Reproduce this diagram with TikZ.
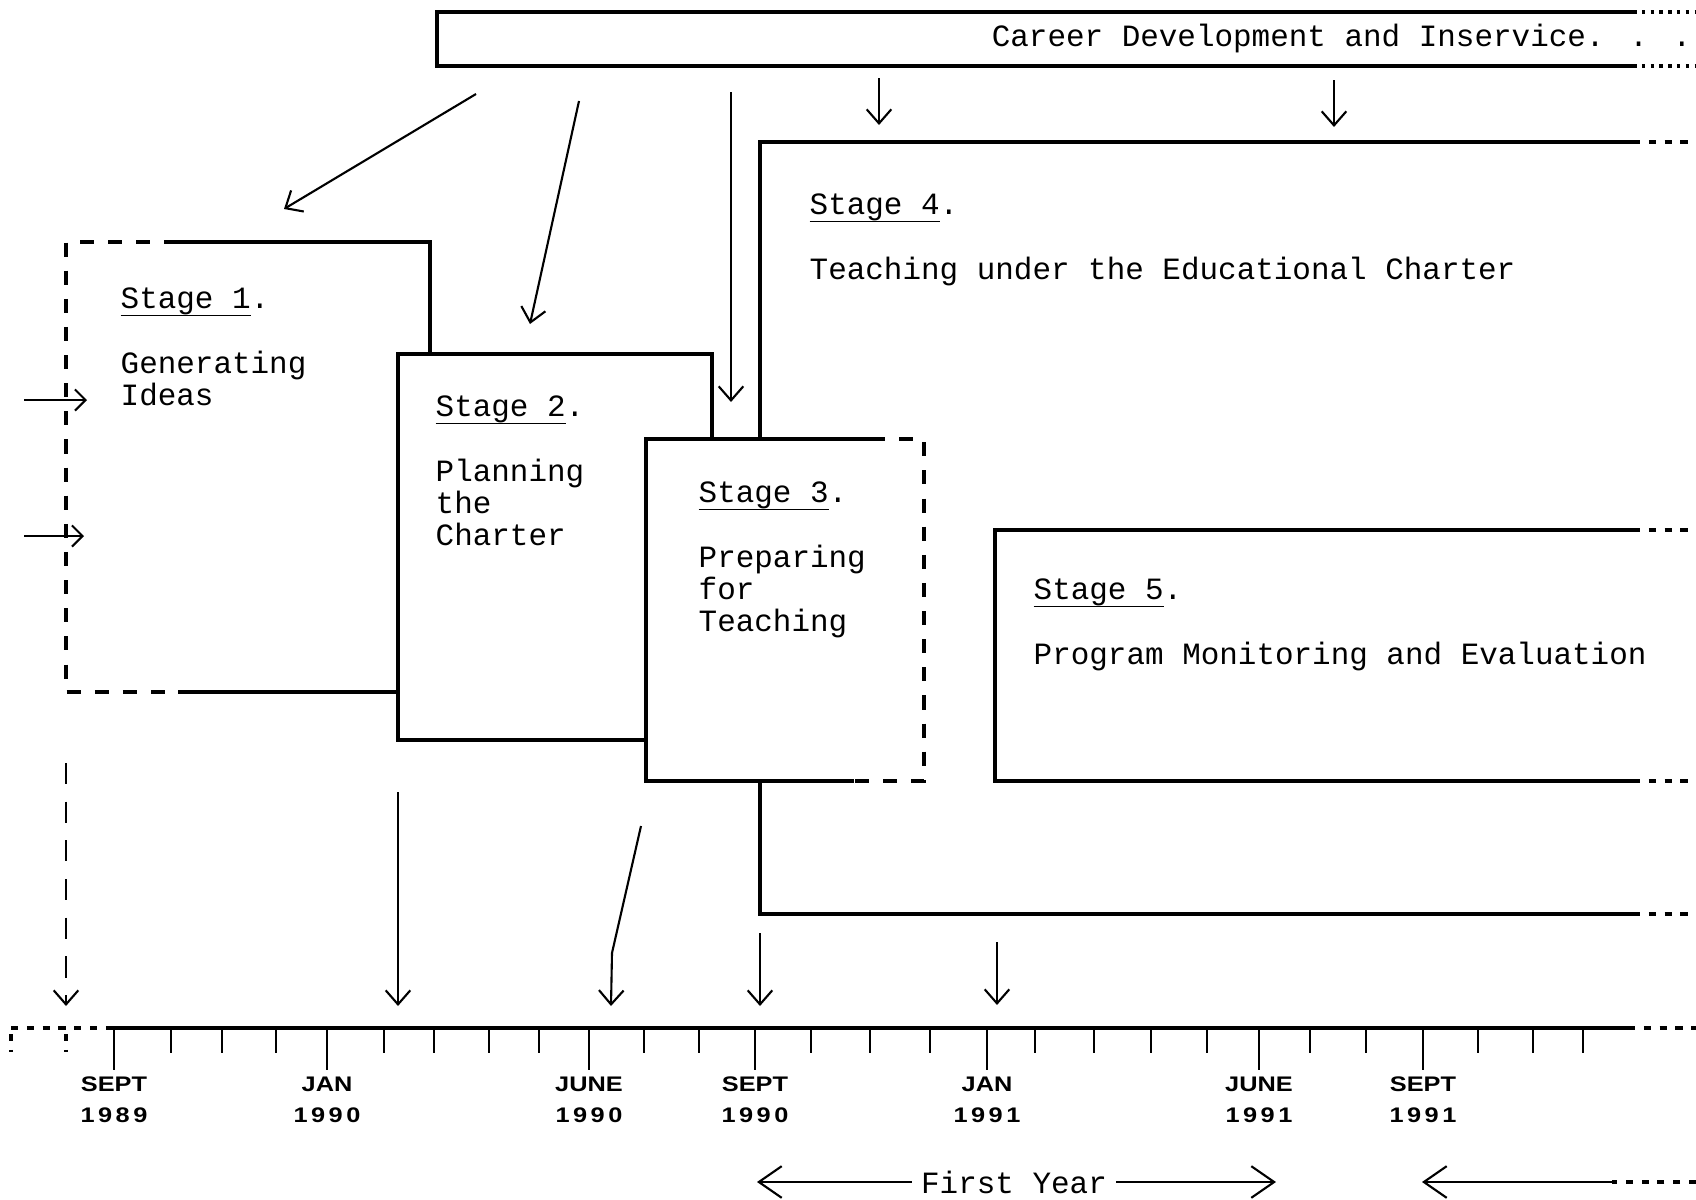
\documentclass[tikz,border=0pt]{standalone}
\usepackage{fontspec}
\usetikzlibrary{arrows.meta}
\newfontfamily\twfont{Liberation Mono}
\newfontfamily\datefont{Liberation Sans}[FakeStretch=1.2]
\newcommand\stagefont{\twfont\fontsize{8.8}{9.2}\selectfont}
\newcommand\tickfont{\datefont\bfseries\fontsize{6}{8.9}\selectfont}
\newcommand\spreadyr[4]{#1\kern1pt#2\kern1pt#3\kern1pt#4}
\newcommand\stageul[1]{\setbox0\hbox{#1}\rlap{\smash{\rule[-2.3pt]{\wd0}{0.5pt}}}\box0}

\begin{document}
\begin{tikzpicture}[x=0.01cm, y=-0.01cm,
  box/.style={line width=0.9pt},
  brk/.style={line width=0.9pt, dash pattern=on 4pt off 4pt},
  tail/.style={line width=0.9pt, dash pattern=on 2pt off 2.5pt},
  dots/.style={line width=0.9pt, dash pattern=on 1pt off 1.5pt},
  arr/.style={line width=0.6pt, -{Straight Barb[length=4pt,width=7pt]}},
  bigarr/.style={line width=0.6pt, -{Straight Barb[length=6.5pt,width=9pt]}},
  stagetxt/.style={anchor=north west, inner sep=0pt, align=left, font=\stagefont}]
  \useasboundingbox (0,0) rectangle (1696,1200);

  % Career development band
  \draw[box] (1633,12) -- (437,12) -- (437,66) -- (1633,66);
  \draw[dots] (1633,12) -- (1696,12);
  \draw[dots] (1633,66) -- (1696,66);
  \node[anchor=base east, inner sep=0pt, font=\stagefont] (cdi) at (1692,47) {Career Development and Inservice. . .};

  % Stage 4
  \draw[box] (1633,142) -- (760,142) -- (760,914) -- (1633,914);
  \draw[tail] (1633,142) -- (1696,142); % open to the right
  \draw[tail] (1633,914) -- (1696,914);
  \node[stagetxt] (s4) at (809,193) {\stageul{Stage 4}.\\[9.2pt]Teaching under the Educational Charter};

  % Stage 5
  \draw[box] (1633,530) -- (995,530) -- (995,781) -- (1633,781);
  \draw[tail] (1633,530) -- (1696,530);
  \draw[tail] (1633,781) -- (1696,781);
  \node[stagetxt] (s5) at (1033,578) {\stageul{Stage 5}.\\[9.2pt]Program Monitoring and Evaluation};

  % Stage 1
  \fill[white] (66,242) rectangle (430,692);
  \draw[box] (178,242) -- (430,242) -- (430,692) -- (178,692);
  \draw[brk] (178,242) -- (66,242) -- (66,692) -- (178,692);
  \node[stagetxt] (s1) at (120,287) {\stageul{Stage 1}.\\[9.2pt]Generating\\Ideas};

  % Stage 2
  \filldraw[box, fill=white] (398,354) rectangle (712,740);
  \node[stagetxt] (s2) at (435,395) {\stageul{Stage 2}.\\[9.2pt]Planning\\the\\Charter};

  % Stage 3
  \fill[white] (646,439) rectangle (924,781);
  \draw[box] (871,439) -- (646,439) -- (646,781) -- (854,781);
  \draw[brk] (871,439) -- (924,439) -- (924,781) -- (854,781);
  \node[stagetxt] (s3) at (698,481) {\stageul{Stage 3}.\\[9.2pt]Preparing\\for\\Teaching};
  \draw[box] (760,781) -- (760,914); % Stage 4 edge below Stage 3

  % Arrows from the band
  \coordinate (b1) at (476,94);   \coordinate (b1e) at (284,209);
  \coordinate (b2) at (579,101);  \coordinate (b2e) at (530,324);
  \coordinate (b3) at (731,92);   \coordinate (b3e) at (731,402);
  \coordinate (b4) at (879,78);   \coordinate (b4e) at (879,125);
  \coordinate (b5) at (1334,80);  \coordinate (b5e) at (1334,127);
  \draw[arr] (b1) -- (b1e);
  \draw[arr] (b2) -- (b2e);
  \draw[arr] (b3) -- (b3e);
  \draw[arr] (b4) -- (b4e);
  \draw[arr] (b5) -- (b5e);

  % Inputs to Stage 1
  \coordinate (i1) at (24,400);  \coordinate (i1e) at (87,400);
  \coordinate (i2) at (24,536);  \coordinate (i2e) at (84,536);
  \draw[arr, -{Straight Barb[length=3pt,width=6pt]}] (i1) -- (i1e);
  \draw[arr, -{Straight Barb[length=3pt,width=6pt]}] (i2) -- (i2e);

  % Timeline
  \draw[box] (106,1028) -- (1628,1028);
  \draw[tail] (11,1028) -- (106,1028);
  \draw[tail] (1628,1028) -- (1696,1028);
  \draw[tail] (11,1034) -- (11,1052);
  \draw[tail] (66,1034) -- (66,1052);
  \foreach \x in {171,222,276,384,434,489,539,644,699,811,870,930,1035,1094,1151,1207,1310,1366,1478,1533,1583}
    \draw[line width=0.6pt] (\x,1028) -- (\x,1053);
  \foreach \x/\m/\y [count=\k] in {114/SEPT/1989, 327/JAN/1990, 589/JUNE/1990, 755/SEPT/1990,
      987/JAN/1991, 1259/JUNE/1991, 1423/SEPT/1991} {
    \draw[line width=0.6pt] (\x,1028) -- (\x,1070);
    \node[anchor=north, inner sep=0pt, align=center, font=\tickfont] (d\k) at (\x,1076) {\m\\\expandafter\spreadyr\y};
  }

  % Arrows down to the timeline
  \coordinate (t1) at (66,763);   \coordinate (t1e) at (66,1006);
  \coordinate (t2) at (398,792);  \coordinate (t2e) at (398,1006);
  \coordinate (t3) at (641,826);  \coordinate (t3m) at (612,953);  \coordinate (t3e) at (611,1006);
  \coordinate (t4) at (760,933);  \coordinate (t4e) at (760,1006);
  \coordinate (t5) at (997,942);  \coordinate (t5e) at (997,1005);
  \draw[arr, dash pattern=on 6pt off 5pt] (t1) -- (t1e);
  \draw[arr] (t2) -- (t2e);
  \draw[arr] (t3) -- (t3m) -- (t3e);
  \draw[arr] (t4) -- (t4e);
  \draw[arr] (t5) -- (t5e);

  % First year
  \node[inner sep=2.5pt, font=\stagefont] (fy) at (1014,1182) {First Year};
  \coordinate (fyl) at (757,1182);
  \coordinate (fyr) at (1276,1182);
  \draw[bigarr] (fy.west) -- (fyl);
  \draw[bigarr] (fy.east) -- (fyr);
  \coordinate (nx) at (1612,1182);
  \coordinate (nxe) at (1422,1182);
  \draw[tail] (1696,1182) -- (nx);
  \draw[bigarr] (nx) -- (nxe);
\end{tikzpicture}
\end{document}
